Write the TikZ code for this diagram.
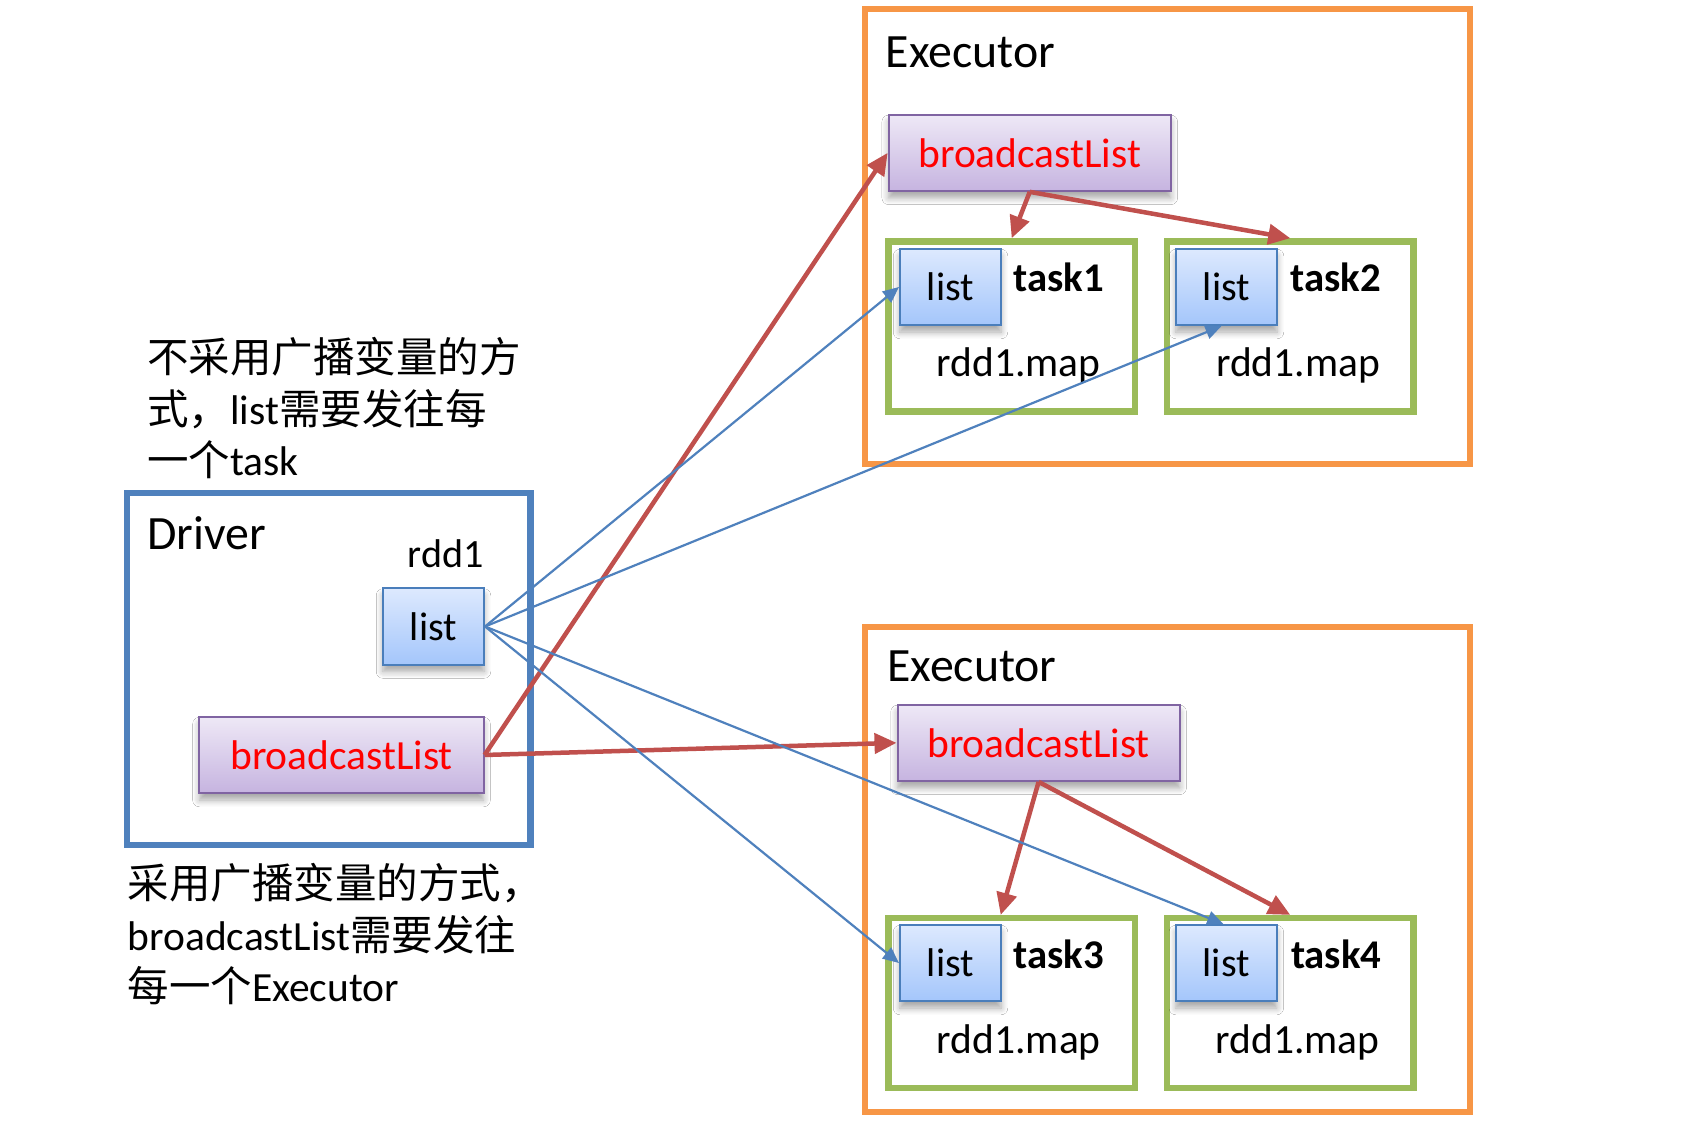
\documentclass[tikz,border=0pt]{standalone}
\usepackage{fontspec}
\setmainfont{Carlito}
\newfontfamily\cjk{Noto Sans CJK SC}
\usepackage{tikz}
\usetikzlibrary{arrows.meta, shadows.blur}
\definecolor{execorange}{HTML}{F79646}
\definecolor{taskgreen}{HTML}{9BBB59}
\definecolor{driverblue}{HTML}{4F81BD}
\definecolor{arrowred}{HTML}{C0504D}
\definecolor{bcpurple}{HTML}{8064A2}
\definecolor{bctop}{HTML}{EEE8F6}
\definecolor{bcbottom}{HTML}{C6B4E0}
\definecolor{listtop}{HTML}{DDE9FE}
\definecolor{listbottom}{HTML}{A4C6FB}
\definecolor{listborder}{HTML}{4A7EBB}
\tikzstyle{execbox} = [draw=execorange, line width=0.06cm]
\tikzstyle{taskbox} = [draw=taskgreen, line width=0.065cm, minimum width=2.46cm, minimum height=1.70cm]
\tikzstyle{driverbox} = [draw=driverblue, line width=0.065cm]
\tikzstyle{boxshadow} = [blur shadow={shadow xshift=0pt, shadow yshift=-2pt, shadow blur steps=6, shadow opacity=35}]
\tikzstyle{listbox} = [draw=listborder, line width=0.02cm, top color=listtop, bottom color=listbottom,
    minimum width=1.01cm, minimum height=0.76cm, inner sep=0pt, boxshadow,
    font=\fontsize{11.4}{13}\selectfont]
\tikzstyle{bcbox} = [draw=bcpurple, line width=0.02cm, top color=bctop, bottom color=bcbottom,
    text=red, minimum width=2.82cm, minimum height=0.76cm, inner sep=0pt, boxshadow,
    font=\fontsize{11.8}{14}\selectfont]
\tikzstyle{bigtext} = [anchor=base west, inner sep=0pt, font=\fontsize{13.6}{16}\selectfont]
\tikzstyle{smalltext} = [anchor=base west, inner sep=0pt, font=\fontsize{11.8}{14}\selectfont]
\tikzstyle{tasktext} = [anchor=base west, inner sep=0pt, font=\fontsize{11.6}{14}\selectfont\bfseries]
\tikzstyle{note} = [anchor=base west, inner sep=0pt, align=left, font=\fontsize{11.8}{14.65}\selectfont]
\tikzstyle{redarrow} = [draw=arrowred, line width=0.045cm, ->, >={Triangle[length=0.22cm, width=0.2cm]}]
\tikzstyle{bluearrow} = [draw=driverblue, line width=0.022cm, ->, >={Triangle[length=0.16cm, width=0.14cm]}]

\begin{document}
\begin{tikzpicture}[x=0.01cm, y=-0.01cm]
    \useasboundingbox[fill=white] (0,0) rectangle (1696,1122);
    \node (exec1)[execbox,
        minimum width=6.05cm,
        minimum height=4.55cm] at (1167.5,236.75) {};
    \node (exec2)[execbox,
        minimum width=6.05cm,
        minimum height=4.85cm] at (1167.5,869.35) {};
    \node (driver)[driverbox,
        minimum width=4.03cm,
        minimum height=3.52cm] at (328.75,669) {};
    \node (exec1label)[bigtext] at (885,67.7) {Executor};
    \node (exec2label)[bigtext] at (886.5,681.7) {Executor};
    \node (driverlabel)[bigtext] at (146.7,550) {Driver};
    \node (rdd)[smalltext, font=\fontsize{11.4}{14}\selectfont] at (407,568) {rdd1};
    \node (dlist)[listbox] at (433.5,626.5) {list};
    \node (dbl)[bcbox, minimum width=2.84cm] at (341.5,755) {broadcastList};
    \node (ebl1)[bcbox] at (1029.75,152.85) {broadcastList};
    \node (ebl2)[bcbox] at (1038.6,742.85) {broadcastList};
    \node (task1)[taskbox] at (1011.7,326.5) {};
    \node (task2)[taskbox] at (1290.3,326.5) {};
    \node (task3)[taskbox] at (1011.7,1003.2) {};
    \node (task4)[taskbox] at (1290.3,1003.2) {};
    \node (list1)[listbox] at (950.5,287) {list};
    \node (list2)[listbox] at (1226.5,287) {list};
    \node (list3)[listbox] at (950.5,963) {list};
    \node (list4)[listbox] at (1226.3,963) {list};
    \node (task1label)[tasktext] at (1012.6,291.7) {task1};
    \node (task2label)[tasktext] at (1290,291.7) {task2};
    \node (task3label)[tasktext] at (1012.5,968.3) {task3};
    \node (task4label)[tasktext] at (1290.3,968.3) {task4};
    \node (map1)[smalltext] at (936,376.7) {rdd1.map};
    \node (map2)[smalltext] at (1215.5,376.7) {rdd1.map};
    \node (map3)[smalltext] at (936.2,1053.3) {rdd1.map};
    \node (map4)[smalltext] at (1214.8,1053.3) {rdd1.map};
    \node (note1)[note] at (146.7,476) {{\cjk 不采用广播变量的方}\\{\cjk 式，}list{\cjk 需要发往每}\\{\cjk 一个}task};
    \node (note2)[note] at (127,1002) {{\cjk 采用广播变量的方式，}\\broadcastList{\cjk 需要发往}\\{\cjk 每一个}Executor};
    \draw [redarrow] (dbl.east) -- (ebl1.west);
    \draw [redarrow] (dbl.east) -- (ebl2.west);
    \draw [redarrow] (ebl1.south) -- (task1.north);
    \draw [redarrow] (ebl1.south) -- (task2.north);
    \draw [redarrow] (ebl2.south) -- ([xshift=-0.11cm]task3.north);
    \draw [redarrow] (ebl2.south) -- (task4.north);
    \draw [bluearrow] (dlist.east) -- (list1.west);
    \draw [bluearrow] (dlist.east) -- ([xshift=-0.05cm]list2.south);
    \draw [bluearrow] (dlist.east) -- (list3.west);
    \draw [bluearrow] (dlist.east) -- ([xshift=-0.03cm]list4.north);
\end{tikzpicture}
\end{document}
